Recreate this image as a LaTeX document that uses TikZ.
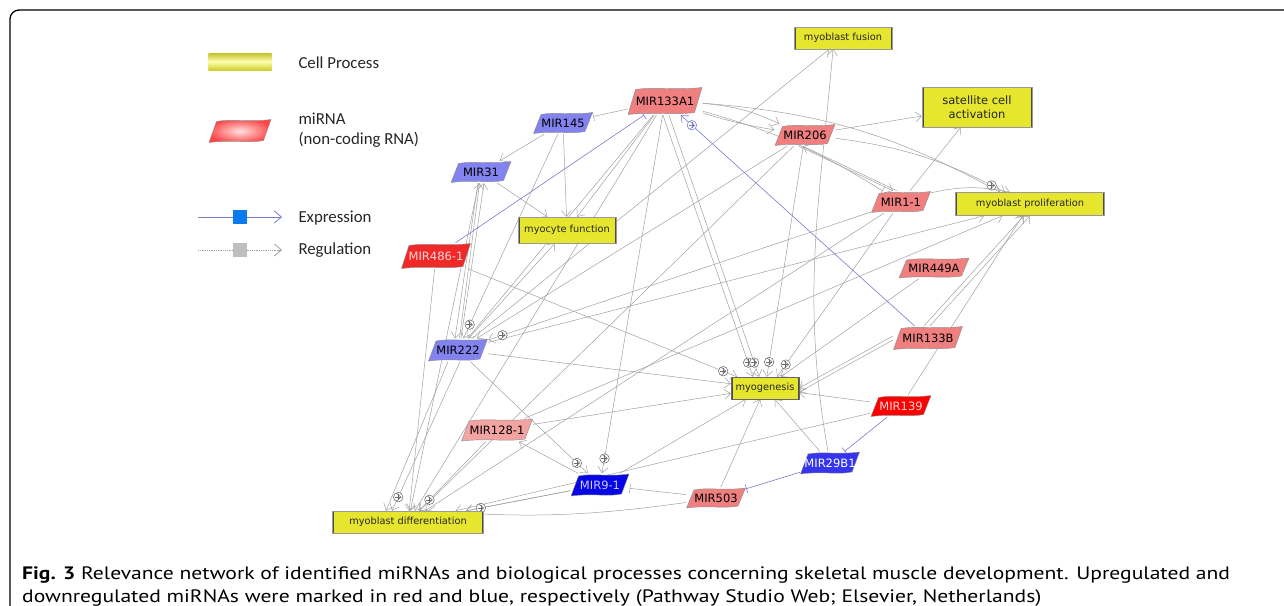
\documentclass[tikz,border=0pt]{standalone}
\usepackage{fontspec}
\newfontfamily\lblfont{DejaVu Sans}
\newfontfamily\legfont{Carlito}
\newfontfamily\capfont[FakeStretch=1.2]{PT Sans}
\usetikzlibrary{math,arrows.meta,calc,backgrounds,decorations.markings}

\definecolor{procyellow}{HTML}{E6E62E}
\definecolor{mirsalmon}{HTML}{F07F7F}
\definecolor{mirpink}{HTML}{F4A3A3}
\definecolor{mirred}{HTML}{F02828}
\definecolor{mirlav}{HTML}{8383F0}
\definecolor{mirblue}{HTML}{3535EE}
\definecolor{mirdeep}{HTML}{0505E6}
\definecolor{exprline}{HTML}{7A7AD0}
\definecolor{exprsq}{HTML}{0A7AEE}
\definecolor{edgegray}{HTML}{A0A0A0}

\tikzset{
  reg/.style={draw=edgegray, line width=0.5pt, -{Straight Barb[length=6pt,width=10pt]}},
  inh/.style={draw=edgegray, line width=0.5pt, -{Bar[width=9pt]}},
  expr/.style={draw=exprline, line width=0.6pt, -{Straight Barb[length=6pt,width=10pt]}},
  exinh/.style={draw=exprline, line width=0.6pt, -{Bar[width=9pt]}},
  oplus/.style={circle, draw=#1, fill=white, line width=0.55pt, minimum size=9.5pt, inner sep=0pt,
    path picture={\draw[#1, line width=0.55pt] ([yshift=-1.5pt]path picture bounding box.north) -- ([yshift=1.5pt]path picture bounding box.south)
      ([xshift=1.5pt]path picture bounding box.west) -- ([xshift=-1.5pt]path picture bounding box.east);}},
  oplus/.default={gray!85!black},
  plusend/.style={postaction={decorate, decoration={markings, mark=at position -15pt with
    {\pgftransformresetnontranslations\node[oplus=#1]{};}}}},
  plusend/.default={gray!85!black},
  mirna/.style 2 args={minimum width=60pt, minimum height=22pt, inner sep=0pt, text=#2,
    font=\lblfont\fontsize{11.5}{13}\selectfont,
    path picture={
      \path[#1, draw=black!45, line width=0.4pt]
        ([xshift=0.5pt,yshift=0.5pt]path picture bounding box.south west)
        -- ([xshift=8pt,yshift=-2.5pt]path picture bounding box.north west)
        .. controls ($(path picture bounding box.north west)!0.38!(path picture bounding box.north east)+(0,0.5pt)$)
        and ($(path picture bounding box.north west)!0.62!(path picture bounding box.north east)+(0,-3.5pt)$)
        .. ([xshift=-0.5pt,yshift=-0.5pt]path picture bounding box.north east)
        -- ([xshift=-8pt,yshift=2.5pt]path picture bounding box.south east)
        .. controls ($(path picture bounding box.south west)!0.62!(path picture bounding box.south east)+(0,-0.5pt)$)
        and ($(path picture bounding box.south west)!0.38!(path picture bounding box.south east)+(0,3.5pt)$)
        .. cycle;
    }},
  procbox/.style={fill=procyellow, draw=black!40, line width=0.4pt, inner sep=2pt, text=black!85,
    font=\lblfont\fontsize{9.8}{12}\selectfont,
    path picture={\draw[line width=3pt, black!70]
      (path picture bounding box.north west) -- (path picture bounding box.south west)
      (path picture bounding box.north east) -- (path picture bounding box.south east);}}
}

\begin{document}
\begin{tikzpicture}[x=1pt, y=-1pt]
  \tikzmath{\lx = 240; \ltx = 295;}
  \useasboundingbox (0,0) rectangle (1284,605);
  \coordinate (frbl) at (10,612);
  \coordinate (frtl) at (10,10);
  \coordinate (frtr) at (1292,10);
  \draw[line width=1.3pt, rounded corners=9pt] (frbl) -- (frtl) -- (frtr);

  % legend
  \node[minimum width=63pt, minimum height=17pt, inner sep=0pt, top color=procyellow!85!black,
    bottom color=procyellow!90!black, middle color=yellow!30] (legproc) at (\lx,61.5) {};
  \node[anchor=west, text=black!85, font=\legfont\fontsize{16.8}{18}\selectfont] (legproct) at (\ltx,63) {Cell Process};
  \node[mirna={shade, inner color=red!12, outer color=red!72}{black}, minimum width=63pt, minimum height=24pt] (legmir) at (\lx,131) {};
  \node[anchor=west, align=left, text=black!85, font=\legfont\fontsize{16.8}{20}\selectfont] (legmirt) at (\ltx,130) {miRNA\\(non-coding RNA)};
  \coordinate (exa) at (198,217);
  \coordinate (exb) at (282,217);
  \draw[draw=exprline, line width=0.8pt, -{Straight Barb[length=7pt,width=12pt]}] (exa) -- (exb);
  \node[fill=exprsq, minimum size=14pt, inner sep=0pt] (exsq) at ($(exa)!0.5!(exb)$) {};
  \node[anchor=west, text=black!85, font=\legfont\fontsize{16.8}{18}\selectfont] (exprt) at (\ltx,218) {Expression};
  \coordinate (rga) at (198,250);
  \coordinate (rgb) at (282,250);
  \draw[draw=gray!75, line width=0.8pt, densely dotted] (rga) -- ($(rgb)+(-3,0)$);
  \draw[draw=gray!75, line width=0.8pt, -{Straight Barb[length=7pt,width=12pt]}] ($(rgb)+(-4,0)$) -- (rgb);
  \node[fill=gray!50, minimum size=14pt, inner sep=0pt] (rgsq) at ($(rga)!0.5!(rgb)$) {};
  \node[anchor=west, text=black!85, font=\legfont\fontsize{16.8}{18}\selectfont] (regt) at (\ltx,250) {Regulation};

  % cell processes
  \node[procbox, minimum width=98pt, minimum height=22pt] (fus) at (843,38) {myoblast fusion};
  \node[procbox, minimum width=110pt, minimum height=40pt, align=center, font=\lblfont\fontsize{11.5}{14}\selectfont] (sat) at (977,107) {satellite cell\\activation};
  \node[procbox, minimum width=149pt, minimum height=23pt] (pro) at (1030,204) {myoblast proliferation};
  \node[procbox, minimum width=98pt, minimum height=26pt] (myo) at (567,230) {myocyte function};
  \node[procbox, minimum width=68pt, minimum height=22pt, draw=black!60] (gen) at (765,388) {myogenesis};
  \node[procbox, minimum width=151pt, minimum height=22pt] (dif) at (408,522) {myoblast differentiation};

  % miRNAs
  \node[mirna={fill=mirsalmon}{black}, minimum width=75pt, minimum height=28pt] (a133) at (665,101) {MIR133A1};
  \node[mirna={fill=mirlav}{black}] (m145) at (563,123) {MIR145};
  \node[mirna={fill=mirlav}{black}, minimum width=61pt] (m31) at (481,172) {MIR31};
  \node[mirna={fill=mirsalmon}{black}, minimum width=61pt] (m206) at (805,135) {MIR206};
  \node[mirna={fill=mirsalmon}{black}] (m11) at (901,202) {MIR1-1};
  \node[mirna={fill=mirred}{red!15}, minimum width=70pt, minimum height=26pt] (m486) at (436,256) {MIR486-1};
  \node[mirna={fill=mirsalmon}{black}, minimum width=71pt, minimum height=21pt] (m449) at (934,268) {MIR449A};
  \node[mirna={fill=mirlav}{black}, minimum height=23pt] (m222) at (458,350) {MIR222};
  \node[mirna={fill=mirsalmon}{black}, minimum width=70pt, minimum height=24pt] (b133) at (928,338) {MIR133B};
  \node[mirna={fill=red}{red!15}, minimum width=61pt] (m139) at (901,406) {MIR139};
  \node[mirna={fill=mirpink}{black}, minimum width=72pt, minimum height=23pt] (m128) at (497,430) {MIR128-1};
  \node[mirna={fill=mirblue}{white}, minimum height=23pt] (m29) at (830,463) {MIR29B1};
  \node[mirna={fill=mirdeep}{blue!20}, minimum width=59pt, minimum height=23pt] (m91) at (600,485) {MIR9-1};
  \node[mirna={fill=mirsalmon}{black}, minimum height=21pt] (m503) at (716,498) {MIR503};

  % caption
  \node[anchor=north west, align=left, inner sep=0pt, font=\capfont\fontsize{18}{23}\selectfont] (caption) at (22,566)
    {\textbf{Fig. 3} Relevance network of identified miRNAs and biological processes concerning skeletal muscle development. Upregulated and\\
     downregulated miRNAs were marked in red and blue, respectively (Pathway Studio Web; Elsevier, Netherlands)};

  \begin{scope}[on background layer]
    \foreach \src/\dst in {m145/m31, m145/myo, m31/myo, a133/myo, m11/sat, m206/sat, m449/gen, m139/gen,
      m29/gen, m503/gen, m128/gen, m222/gen, m91/gen, m222/myo, m222/m31, m222/fus, a133/m222, m206/m222,
      m91/m128, m91/dif, a133/dif, m206/dif, m486/dif, m31/dif, m139/dif, m11/dif, m139/pro, m222/pro, m128/pro}
      \draw[reg] (\src) -- (\dst);
    \foreach \src/\dst in {m486/gen, m206/gen, m11/m222, m145/m222, a133/m91, m222/m91, m128/dif, m91/dif}
      \draw[reg, plusend] (\src) -- (\dst);
    \draw[reg] ([xshift=-3pt]m31.south) -- ([xshift=-3pt]m222.north);
    \draw[reg] ([xshift=3pt]m222.north) -- ([xshift=3pt]m31.south);
    \draw[reg] ([xshift=-10pt]m222.south) -- ([xshift=-22pt]dif.north);
    \draw[reg, plusend] ([xshift=2pt]m222.south) -- ([xshift=-16pt]dif.north);
    \draw[reg, plusend] ([xshift=-2pt]a133.south) -- ([xshift=-12pt]gen.north);
    \draw[reg, plusend] ([xshift=4pt]a133.south) -- ([xshift=-6pt]gen.north);
    \draw[reg, plusend] (m11) -- ([xshift=12pt]gen.north);
    \draw[reg] ([yshift=-2pt]b133.west) -- ([yshift=-4pt]gen.east);
    \draw[reg] ([yshift=2pt]b133.west) -- ([yshift=0pt]gen.east);
    \draw[reg] ([xshift=-4pt]b133.north) -- ([xshift=-6pt]pro.south);
    \draw[reg] ([xshift=2pt]b133.north) -- ([xshift=0pt]pro.south);
    \draw[reg] (m29) to[out=100, in=-95] ([xshift=-10pt]fus.south);
    \draw[reg] (a133) to[bend left=10] (m206);
    \draw[reg] (a133) to[bend left=-4] (m206);
    \draw[reg] (a133) to[bend left=12] ([xshift=-30pt]pro.north);
    \draw[inh] (a133) to[bend left=8] (m11);
    \draw[reg, plusend] (m206) to[bend left=10] ([xshift=-25pt]pro.north);
    \draw[reg] (m11) to[bend left=12] ([xshift=-20pt]pro.north);
    \draw[reg] ([xshift=-6pt]m206.south) -- ([xshift=-8pt]m11.north);
    \draw[reg] ([xshift=-4pt]m11.north) -- ([xshift=-2pt]m206.south);
    \draw[reg] (m503) to[bend left=6] ([xshift=20pt]dif.north);
    \draw[inh] (m503) -- (m91);
    \draw[inh] (a133) -- (m145);
    \draw[exinh] (m486) -- (a133);
    \draw[expr, plusend=exprline] (b133) -- (a133);
    \draw[exinh] (m139) -- (m29);
    \draw[exinh] (m29) -- (m503);
  \end{scope}
\end{tikzpicture}
\end{document}
